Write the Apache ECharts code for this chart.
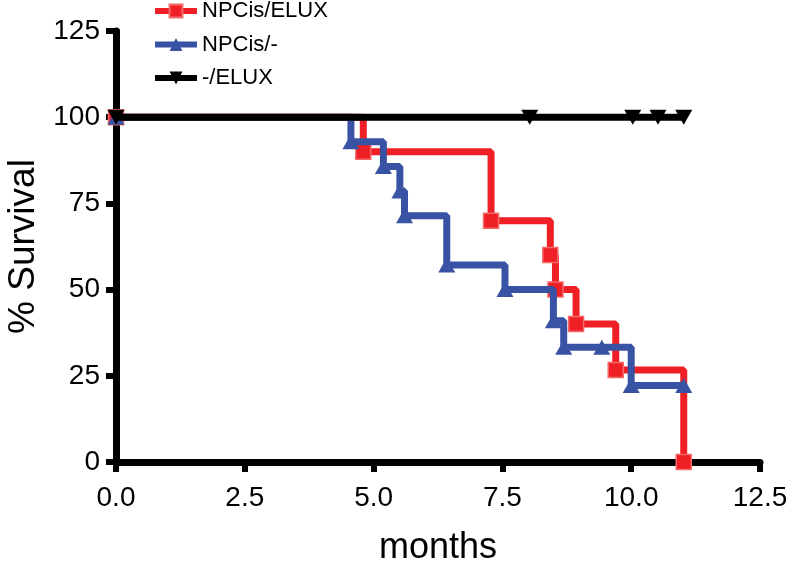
<!DOCTYPE html>
<html>
<head>
<meta charset="utf-8">
<script src="https://cdn.jsdelivr.net/npm/echarts@6/dist/echarts.min.js"></script>
<style>
html,body{margin:0;padding:0;background:#fff;}
#chart{width:800px;height:562px;}
</style>
</head>
<body>
<div id="chart"></div>
<script>
// Kaplan-Meier step points [months, % survival]
const seriesNames = ['NPCis/ELUX', 'NPCis/-', '-/ELUX'];
const npcisEluxMonths   = [0, 4.8, 7.28, 8.43, 8.53, 8.93, 9.7, 11.02];
const npcisEluxSurvival = [100, 90, 70, 60, 50, 40, 26.7, 0];
const npcisMonths   = [0, 4.56, 5.19, 5.51, 5.6, 6.42, 7.55, 8.49, 8.69, 9.43, 10.0, 11.02];
const npcisSurvival = [100, 92.9, 85.7, 78.6, 71.4, 57.1, 50, 41, 33.3, 33.3, 22.2, 22.2];
const eluxMonths   = [0, 8.03, 10.03, 10.52, 11.02];
const eluxSurvival = [100, 100, 100, 100, 100];
const xTicks = [0, 2.5, 5, 7.5, 10, 12.5];
const yTicks = [0, 25, 50, 75, 100, 125];

const zip = (xs, ys) => xs.map((x, i) => [x, ys[i]]);
const FONT = 'Liberation Sans, Arial, Helvetica, sans-serif';
const RED = '#ee1f25', BLUE = '#3953a4', BLACK = '#000000';

const chart = echarts.init(document.getElementById('chart'), null, {renderer: 'canvas'});
chart.setOption({
  animation: false,
  backgroundColor: '#ffffff',
  grid: {left: 116, right: 40, top: 31, bottom: 100, containLabel: false, outerBoundsMode: 'none'},
  legend: {
    orient: 'vertical', left: 152, top: 0, padding: 0,
    itemWidth: 42, itemHeight: 16, itemGap: 11.5,
    data: seriesNames,
    lineStyle: {width: 6},
    textStyle: {fontFamily: FONT, fontSize: 22, color: '#000', lineHeight: 22}
  },
  xAxis: {
    type: 'value', min: xTicks[0], max: xTicks[xTicks.length - 1], interval: 2.5,
    name: 'months', nameLocation: 'middle', nameGap: 68,
    nameTextStyle: {fontFamily: FONT, fontSize: 36, color: '#000'},
    axisLine: {lineStyle: {color: '#000', width: 7}},
    axisTick: {length: 10, lineStyle: {color: '#000', width: 6}},
    axisLabel: {fontFamily: FONT, fontSize: 28, color: '#000', margin: 22,
      formatter: v => v.toFixed(1)},
    splitLine: {show: false}
  },
  yAxis: {
    type: 'value', min: yTicks[0], max: yTicks[yTicks.length - 1], interval: 25,
    name: '% Survival', nameLocation: 'middle', nameGap: 63,
    nameTextStyle: {fontFamily: FONT, fontSize: 37, color: '#000'},
    axisLine: {lineStyle: {color: '#000', width: 7}},
    axisTick: {length: 10, lineStyle: {color: '#000', width: 6}},
    axisLabel: {fontFamily: FONT, fontSize: 28, color: '#000', margin: 16},
    splitLine: {show: false}
  },
  series: [
    {
      name: seriesNames[0], type: 'line', step: 'end',
      data: zip(npcisEluxMonths, npcisEluxSurvival),
      symbol: 'rect', symbolSize: 15, showAllSymbol: true,
      lineStyle: {color: RED, width: 7},
      itemStyle: {color: RED, borderColor: '#f46a6a', borderWidth: 1.5},
      z: 2
    },
    {
      name: seriesNames[1], type: 'line', step: 'end',
      data: zip(npcisMonths, npcisSurvival),
      symbol: 'triangle', symbolSize: [17, 15], showAllSymbol: true,
      lineStyle: {color: BLUE, width: 7},
      itemStyle: {color: BLUE},
      z: 3
    },
    {
      name: seriesNames[2], type: 'line', step: 'end',
      data: zip(eluxMonths, eluxSurvival),
      symbol: 'triangle', symbolRotate: 180, symbolSize: [17, 15], showAllSymbol: true,
      lineStyle: {color: BLACK, width: 7},
      itemStyle: {color: BLACK},
      z: 4
    }
  ]
});
</script>
</body>
</html>
